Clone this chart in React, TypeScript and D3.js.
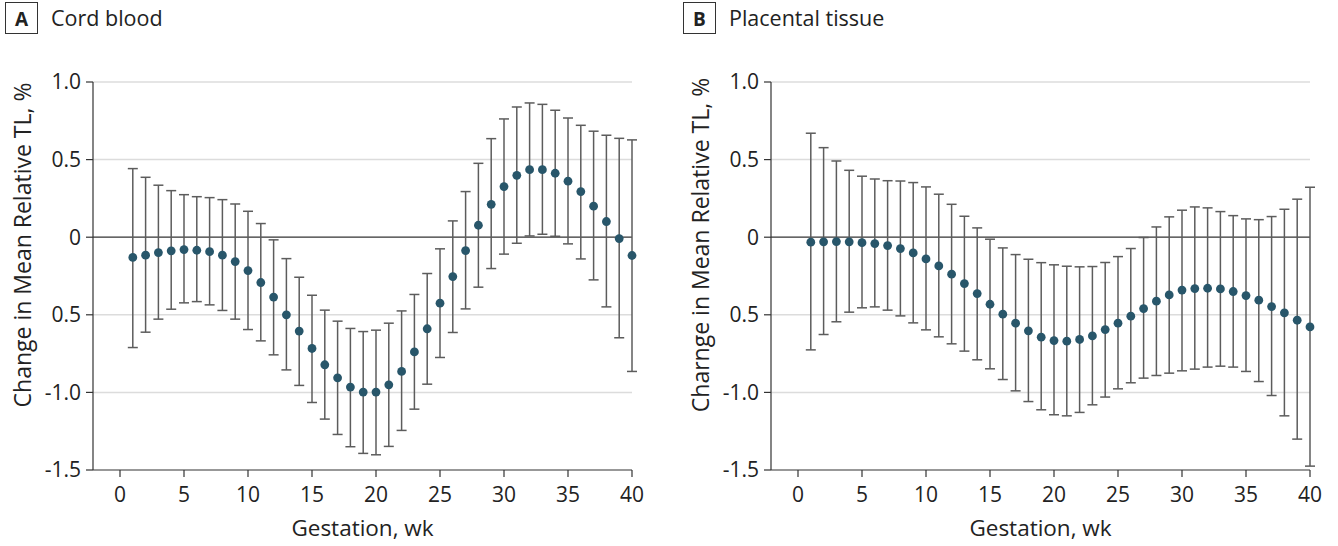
import * as d3 from "d3";
import React from "react";

// gestation weeks 1..40
const weeks = d3.range(1, 41);

// A - cord blood
const cordMean = [
  -0.13, -0.116, -0.099, -0.088, -0.08, -0.084, -0.093, -0.116, -0.157, -0.215,
  -0.292, -0.386, -0.5, -0.605, -0.717, -0.822, -0.906, -0.966, -0.998, -0.998,
  -0.951, -0.865, -0.739, -0.59, -0.425, -0.254, -0.086, 0.077, 0.212, 0.326,
  0.399, 0.435, 0.435, 0.412, 0.361, 0.294, 0.2, 0.101, -0.009, -0.118,
];
const cordHigh = [
  0.442, 0.386, 0.335, 0.3, 0.274, 0.261, 0.255, 0.242, 0.214, 0.167,
  0.088, -0.017, -0.138, -0.258, -0.374, -0.47, -0.541, -0.588, -0.608, -0.599,
  -0.554, -0.475, -0.369, -0.234, -0.075, 0.105, 0.294, 0.476, 0.635, 0.762,
  0.839, 0.865, 0.856, 0.818, 0.768, 0.721, 0.683, 0.657, 0.637, 0.627,
];
const cordLow = [
  -0.711, -0.612, -0.528, -0.464, -0.423, -0.415, -0.436, -0.472, -0.528, -0.595,
  -0.668, -0.758, -0.855, -0.955, -1.065, -1.172, -1.271, -1.35, -1.393, -1.402,
  -1.348, -1.245, -1.108, -0.947, -0.775, -0.614, -0.462, -0.322, -0.202, -0.109,
  -0.039, 0.008, 0.019, 0.006, -0.043, -0.14, -0.275, -0.449, -0.648, -0.865,
];

// B - placental tissue
const placentaMean = [
  -0.032, -0.03, -0.028, -0.03, -0.035, -0.041, -0.054, -0.073, -0.101, -0.14,
  -0.185, -0.238, -0.299, -0.363, -0.432, -0.496, -0.554, -0.603, -0.644, -0.666,
  -0.67, -0.659, -0.636, -0.595, -0.554, -0.509, -0.46, -0.412, -0.372, -0.341,
  -0.331, -0.329, -0.333, -0.35, -0.376, -0.406, -0.447, -0.487, -0.535, -0.578,
];
const placentaHigh = [
  0.67, 0.577, 0.491, 0.431, 0.393, 0.375, 0.364, 0.362, 0.352, 0.324,
  0.277, 0.212, 0.135, 0.06, -0.013, -0.069, -0.112, -0.142, -0.164, -0.178,
  -0.187, -0.191, -0.189, -0.163, -0.125, -0.073, -0.002, 0.066, 0.131, 0.174,
  0.195, 0.189, 0.165, 0.139, 0.118, 0.113, 0.133, 0.18, 0.245, 0.322,
];
const placentaLow = [
  -0.726, -0.627, -0.545, -0.483, -0.455, -0.449, -0.47, -0.507, -0.552, -0.597,
  -0.642, -0.687, -0.734, -0.79, -0.848, -0.917, -0.99, -1.059, -1.112, -1.144,
  -1.151, -1.129, -1.08, -1.03, -0.977, -0.938, -0.908, -0.891, -0.876, -0.861,
  -0.85, -0.837, -0.831, -0.837, -0.865, -0.93, -1.02, -1.151, -1.301, -1.475,
];

const yTicks = [1.0, 0.5, 0, -0.5, -1.0, -1.5];
const yTickLabels = ["1.0", "0.5", "0", "0.5", "-1.0", "-1.5"];
const xTicks = [0, 5, 10, 15, 20, 25, 30, 35, 40];

const font = "'Open Sans', sans-serif";
const dotColor = "#28566a";
const barColor = "#5c5c5c";

type PanelProps = {
  left: number;
  letter: string;
  title: string;
  yLabel: string;
  mean: number[];
  high: number[];
  low: number[];
};

const Panel = ({ left, letter, title, yLabel, mean, high, low }: PanelProps) => {
  const axisX = 93;
  const x = d3.scaleLinear().domain([0, 40]).range([120, 632]);
  const y = d3.scaleLinear().domain([-1.5, 1.0]).range([470, 82]);
  const x40 = x(40);

  return (
    <g transform={`translate(${left},0)`} fontFamily={font}>
      {/* panel header */}
      <rect x={5.5} y={2.5} width={32} height={31} fill="none" stroke="#333" strokeWidth={1} />
      <text x={21.5} y={26} textAnchor="middle" fontSize={19} fontWeight={700} fill="#222">
        {letter}
      </text>
      <text x={51} y={26} fontSize={21.5} fill="#222">
        {title}
      </text>

      {/* grid */}
      {yTicks.filter((t) => t !== 0 && t !== -1.5).map((t) => (
        <line key={t} x1={axisX} x2={x40} y1={y(t)} y2={y(t)} stroke="#dcdcdc" strokeWidth={1.5} />
      ))}
      <line x1={axisX} x2={x40} y1={y(0)} y2={y(0)} stroke="#333" strokeWidth={1.2} />

      {/* y axis */}
      <line x1={axisX} x2={axisX} y1={y(1.0)} y2={y(-1.5)} stroke="#333" strokeWidth={1.2} />
      {yTicks.map((t, i) => (
        <g key={t}>
          <line x1={axisX - 7} x2={axisX} y1={y(t)} y2={y(t)} stroke="#333" strokeWidth={1.2} />
          <text x={axisX - 12} y={y(t)} dy="0.35em" textAnchor="end" fontSize={21} fill="#222">
            {yTickLabels[i]}
          </text>
        </g>
      ))}
      <text
        transform={`translate(23,${245}) rotate(-90)`}
        textAnchor="middle"
        dy="0.35em"
        fontSize={23}
        fill="#222"
      >
        {yLabel}
      </text>

      {/* x axis */}
      <line x1={axisX} x2={x40} y1={y(-1.5)} y2={y(-1.5)} stroke="#333" strokeWidth={1.2} />
      {xTicks.map((t) => (
        <g key={t}>
          <line x1={x(t)} x2={x(t)} y1={y(-1.5)} y2={y(-1.5) + 7} stroke="#333" strokeWidth={1.2} />
          <text x={x(t)} y={y(-1.5) + 25} dy="0.35em" textAnchor="middle" fontSize={21} fill="#222">
            {t}
          </text>
        </g>
      ))}
      <text x={(axisX + x40) / 2} y={528} dy="0.35em" textAnchor="middle" fontSize={22.5} fill="#222">
        Gestation, wk
      </text>

      {/* error bars */}
      {weeks.map((w, i) => (
        <g key={w} stroke={barColor} strokeWidth={1.5}>
          <line x1={x(w)} x2={x(w)} y1={y(high[i])} y2={y(low[i])} />
          <line x1={x(w) - 5} x2={x(w) + 5} y1={y(high[i])} y2={y(high[i])} />
          <line x1={x(w) - 5} x2={x(w) + 5} y1={y(low[i])} y2={y(low[i])} />
        </g>
      ))}
      {weeks.map((w, i) => (
        <circle key={w} cx={x(w)} cy={y(mean[i])} r={4.4} fill={dotColor} />
      ))}
    </g>
  );
};

export default function App() {
  return (
    <svg width={1338} height={546} style={{ position: "absolute", left: 0, top: 0, background: "#fff" }}>
      <Panel
        left={0}
        letter="A"
        title="Cord blood"
        yLabel="Change in Mean Relative TL, %"
        mean={cordMean}
        high={cordHigh}
        low={cordLow}
      />
      <Panel
        left={678}
        letter="B"
        title="Placental tissue"
        yLabel="Charnge in Mean Relative TL, %"
        mean={placentaMean}
        high={placentaHigh}
        low={placentaLow}
      />
    </svg>
  );
}
